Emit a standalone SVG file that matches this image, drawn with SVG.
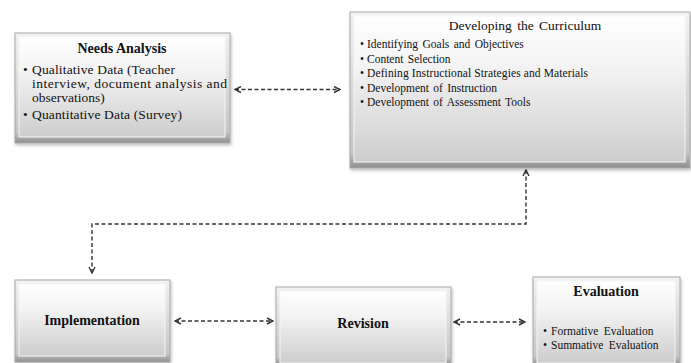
<svg xmlns="http://www.w3.org/2000/svg" width="691" height="363" viewBox="0 0 691 363" font-family="'Liberation Serif', 'Times New Roman', serif">
<defs>
<linearGradient id="bevel" x1="0" y1="0" x2="0" y2="1">
<stop offset="0" stop-color="#f2f2f2"/>
<stop offset="0.9" stop-color="#c6c6c6"/>
<stop offset="1" stop-color="#8e8e8e"/>
</linearGradient>
<linearGradient id="face" x1="0" y1="0" x2="0" y2="1">
<stop offset="0" stop-color="#ffffff"/>
<stop offset="0.35" stop-color="#f3f3f3"/>
<stop offset="1" stop-color="#cdcdcd"/>
</linearGradient>
<filter id="shadow" x="-5%" y="-5%" width="110%" height="120%">
<feDropShadow dx="1" dy="2" stdDeviation="1.5" flood-color="#000" flood-opacity="0.25"/>
</filter>
<marker id="arr" viewBox="0 0 8 8" refX="7" refY="4" markerWidth="8" markerHeight="8" markerUnits="userSpaceOnUse" orient="auto-start-reverse">
<path d="M1,1 L7,4 L1,7" fill="none" stroke="#333" stroke-width="1.4"/>
</marker>
</defs>
<style>
.outer{fill:url(#bevel);stroke:#a8a8a8;stroke-width:1;filter:url(#shadow)}
.inner{fill:url(#face);stroke:#f6f6f6;stroke-width:1}
text{font-family:'Liberation Serif','Times New Roman',serif;fill:#111111}
.title{font-size:14px;font-weight:bold;text-anchor:middle}
.b13{font-size:13.5px}
.b11{font-size:11.5px}
.conn{fill:none;stroke:#333;stroke-width:1.4;stroke-dasharray:4 2.5;marker-start:url(#arr);marker-end:url(#arr)}
</style>
<rect width="691" height="363" fill="#ffffff"/>
<g id="connectors">
<path class="conn" d="M235,89.5 H340"/>
<path class="conn" d="M92,273 V224 H526 V170"/>
<path class="conn" d="M175,321 H273"/>
<path class="conn" d="M454,322 H525"/>
</g>
<g id="needs-analysis">
<rect class="outer" x="15" y="33" width="215" height="110"/>
<rect class="inner" x="19" y="37" width="206" height="100"/>
<text class="title" x="122" y="53">Needs Analysis</text>
<text class="b13" x="23" y="73.5">•</text>
<text class="b13" x="32" y="73.5" textLength="143" lengthAdjust="spacing">Qualitative  Data (Teacher</text>
<text class="b13" x="32" y="87.5" textLength="195" lengthAdjust="spacing">interview,  document analysis  and</text>
<text class="b13" x="32" y="102">observations)</text>
<text class="b13" x="23" y="119">•</text>
<text class="b13" x="32" y="119" textLength="150" lengthAdjust="spacing">Quantitative  Data (Survey)</text>
</g>
<g id="developing-curriculum">
<rect class="outer" x="350" y="12" width="340" height="156"/>
<rect class="inner" x="354" y="16" width="331" height="146"/>
<text x="525" y="30" font-size="13.5" text-anchor="middle" word-spacing="2">Developing the Curriculum</text>
<g class="b11">
<text x="360" y="48">•</text><text x="367" y="48" word-spacing="1.5">Identifying Goals and Objectives</text>
<text x="360" y="62.5">•</text><text x="367" y="62.5" word-spacing="1.5">Content Selection</text>
<text x="360" y="77">•</text><text x="367" y="77" textLength="221" lengthAdjust="spacing">Defining Instructional Strategies and Materials</text>
<text x="360" y="91.5">•</text><text x="367" y="91.5" word-spacing="1.5">Development of Instruction</text>
<text x="360" y="106">•</text><text x="367" y="106" word-spacing="1.5">Development of Assessment Tools</text>
</g>
</g>
<g id="implementation">
<rect class="outer" x="15" y="280" width="155" height="82"/>
<rect class="inner" x="19" y="284" width="146" height="72"/>
<text class="title" x="92" y="324.5" font-size="13">Implementation</text>
</g>
<g id="revision">
<rect class="outer" x="276" y="287" width="175" height="78"/>
<rect class="inner" x="280" y="291" width="166" height="72"/>
<text class="title" x="363" y="328">Revision</text>
</g>
<g id="evaluation">
<rect class="outer" x="533" y="277" width="147" height="88"/>
<rect class="inner" x="537" y="281" width="138" height="82"/>
<text class="title" x="606" y="296">Evaluation</text>
<g class="b11">
<text x="543" y="335">•</text><text x="551" y="335" word-spacing="2.5">Formative Evaluation</text>
<text x="543" y="349">•</text><text x="551" y="349" word-spacing="2.5">Summative Evaluation</text>
</g>
</g>
</svg>
